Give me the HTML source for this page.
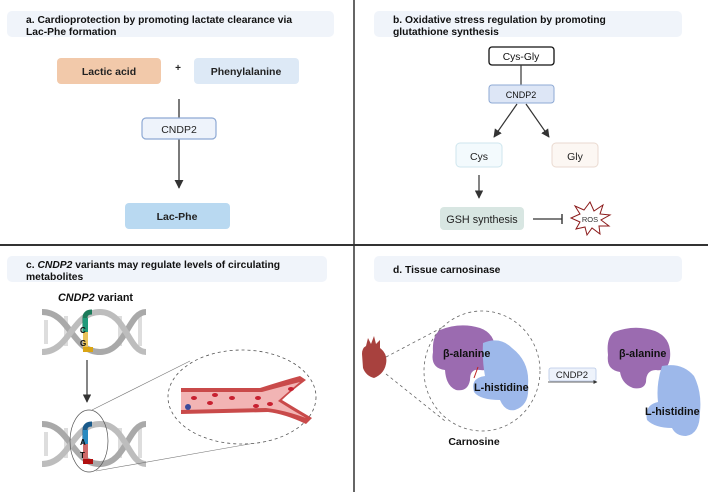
<!DOCTYPE html>
<html><head><meta charset="utf-8"><style>
body{margin:0;width:708px;height:492px;background:#fff;overflow:hidden}
svg{display:block}
text{font-family:"Liberation Sans",sans-serif}
</style></head><body>
<svg width="708" height="492" viewBox="0 0 708 492">
<defs>
<marker id="ar" viewBox="0 0 10 10" refX="9" refY="5" markerWidth="7" markerHeight="7" orient="auto-start-reverse"><path d="M0,0L10,5L0,10z" fill="#333"/></marker>
<marker id="ar2" viewBox="0 0 10 10" refX="9" refY="5" markerWidth="5" markerHeight="5" orient="auto"><path d="M0,0L10,5L0,10z" fill="#333"/></marker>
</defs>
<line x1="0" y1="245" x2="708" y2="245" stroke="#333" stroke-width="2"/>
<line x1="354" y1="0" x2="354" y2="492" stroke="#333" stroke-width="1.5"/>

<!-- panel a -->
<rect x="7" y="11" width="327" height="26" rx="5" fill="#f0f4fa"/>
<text x="26" y="23" font-size="10.3" font-weight="bold" fill="#111">a. Cardioprotection by promoting lactate clearance via</text>
<text x="26" y="35" font-size="10.3" font-weight="bold" fill="#111">Lac-Phe formation</text>
<rect x="57" y="58" width="104" height="26" rx="4" fill="#f2c9aa"/>
<text x="109" y="75" font-size="10.5" font-weight="bold" text-anchor="middle" fill="#222">Lactic acid</text>
<text x="178" y="71" font-size="10" font-weight="bold" text-anchor="middle" fill="#222">+</text>
<rect x="194" y="58" width="105" height="26" rx="4" fill="#dde9f6"/>
<text x="246" y="75" font-size="10.5" font-weight="bold" text-anchor="middle" fill="#222">Phenylalanine</text>
<line x1="179" y1="99" x2="179" y2="118" stroke="#333" stroke-width="1.3"/>
<line x1="179" y1="139" x2="179" y2="188" stroke="#333" stroke-width="1.3" marker-end="url(#ar)"/>
<rect x="142" y="118" width="74" height="21" rx="4" fill="#eef3fb" stroke="#8ea9d4" stroke-width="1.2"/>
<text x="179" y="133" font-size="10.5" text-anchor="middle" fill="#222">CNDP2</text>
<rect x="125" y="203" width="105" height="26" rx="4" fill="#b9d9f1"/>
<text x="177" y="220" font-size="10.5" font-weight="bold" text-anchor="middle" fill="#222">Lac-Phe</text>

<!-- panel b -->
<rect x="374" y="11" width="308" height="26" rx="5" fill="#f0f4fa"/>
<text x="393" y="23" font-size="10.3" font-weight="bold" fill="#111">b. Oxidative stress regulation by promoting</text>
<text x="393" y="35" font-size="10.3" font-weight="bold" fill="#111">glutathione synthesis</text>
<rect x="489" y="47" width="65" height="18" rx="3" fill="#fff" stroke="#111" stroke-width="1.3"/>
<text x="521" y="60" font-size="10.3" text-anchor="middle" fill="#111">Cys-Gly</text>
<line x1="521" y1="65" x2="521" y2="85" stroke="#333" stroke-width="1.2"/>
<rect x="489" y="85" width="65" height="18" rx="3" fill="#dde6f6" stroke="#8ea9d4" stroke-width="1"/>
<text x="521" y="98" font-size="9" text-anchor="middle" fill="#111">CNDP2</text>
<line x1="517" y1="104" x2="494" y2="137" stroke="#333" stroke-width="1.2" marker-end="url(#ar)"/>
<line x1="526" y1="104" x2="549" y2="137" stroke="#333" stroke-width="1.2" marker-end="url(#ar)"/>
<rect x="456" y="143" width="46" height="24" rx="4" fill="#f3fafd" stroke="#cfe6ee"/>
<text x="479" y="160" font-size="10.5" text-anchor="middle" fill="#222">Cys</text>
<rect x="552" y="143" width="46" height="24" rx="4" fill="#fcf7f3" stroke="#eadad0"/>
<text x="575" y="160" font-size="10.5" text-anchor="middle" fill="#222">Gly</text>
<line x1="479" y1="175" x2="479" y2="198" stroke="#333" stroke-width="1.2" marker-end="url(#ar)"/>
<rect x="440" y="207" width="84" height="23" rx="4" fill="#d8e6e2"/>
<text x="482" y="223" font-size="10.8" text-anchor="middle" fill="#222">GSH synthesis</text>
<line x1="533" y1="219" x2="562" y2="219" stroke="#333" stroke-width="1.2"/>
<line x1="562" y1="214" x2="562" y2="224" stroke="#333" stroke-width="1.4"/>
<polygon points="590,202 594,211 603,205 600,214 610,215 601,220 609,226 599,226 600,234 592,228 587,235 585,227 576,229 580,222 571,218 580,214 575,206 584,210" fill="#fff" stroke="#8b1a1a" stroke-width="1"/>
<text x="590" y="222" font-size="7.5" text-anchor="middle" fill="#333">ROS</text>

<!-- panel c -->
<rect x="7" y="256" width="320" height="26" rx="5" fill="#f0f4fa"/>
<text x="26" y="268" font-size="10.3" font-weight="bold" fill="#111">c. <tspan font-style="italic">CNDP2</tspan> variants may regulate levels of circulating</text>
<text x="26" y="280" font-size="10.3" font-weight="bold" fill="#111">metabolites</text>
<text x="58" y="301" font-size="10.8" font-weight="bold" fill="#111"><tspan font-style="italic">CNDP2</tspan> variant</text>
<g>
<rect x="44" y="320" width="4" height="24" fill="#ddd"/><rect x="64" y="316" width="4" height="30" fill="#ddd"/><rect x="118" y="316" width="4" height="30" fill="#ddd"/><rect x="138" y="316" width="4" height="30" fill="#ddd"/>
<path d="M42,312 C70,312 72,352 100,352 C126,352 128,312 146,312" fill="none" stroke="#a9a9a9" stroke-width="6"/>
<path d="M42,352 C70,352 72,312 100,312 C126,312 128,352 146,352" fill="none" stroke="#bdbdbd" stroke-width="6"/>
</g>
<path d="M85,332 L85,318 Q85,312 92,312" fill="none" stroke="#1b7a5a" stroke-width="5"/>
<rect x="83" y="318" width="5" height="14" fill="#1f9a7a"/>
<rect x="83" y="332" width="5" height="16" fill="#e8c25a"/>
<rect x="83" y="347" width="10" height="5" fill="#d9a414"/>
<text x="80" y="333" font-size="8" font-weight="bold" fill="#111">C</text>
<text x="80" y="346" font-size="8" font-weight="bold" fill="#111">G</text>
<line x1="87" y1="360" x2="87" y2="402" stroke="#333" stroke-width="1.2" marker-end="url(#ar)"/>
<g transform="translate(0,112)">
<rect x="44" y="320" width="4" height="24" fill="#ddd"/><rect x="64" y="316" width="4" height="30" fill="#ddd"/><rect x="118" y="316" width="4" height="30" fill="#ddd"/><rect x="138" y="316" width="4" height="30" fill="#ddd"/>
<path d="M42,312 C70,312 72,352 100,352 C126,352 128,312 146,312" fill="none" stroke="#a9a9a9" stroke-width="6"/>
<path d="M42,352 C70,352 72,312 100,312 C126,312 128,352 146,352" fill="none" stroke="#bdbdbd" stroke-width="6"/>
</g>
<path d="M85,444 L85,430 Q85,424 92,424" fill="none" stroke="#1a5a8a" stroke-width="5"/>
<rect x="83" y="430" width="5" height="14" fill="#2a8ac0"/>
<rect x="83" y="444" width="5" height="16" fill="#d06a6a"/>
<rect x="83" y="459" width="10" height="5" fill="#b01010"/>
<text x="80" y="445" font-size="8" font-weight="bold" fill="#111">A</text>
<text x="80" y="458" font-size="8" font-weight="bold" fill="#111">T</text>
<ellipse cx="89" cy="441" rx="19" ry="31" fill="none" stroke="#555" stroke-width="0.7"/>
<line x1="92" y1="410" x2="190" y2="361" stroke="#777" stroke-width="0.6"/>
<line x1="96" y1="471" x2="272" y2="440" stroke="#777" stroke-width="0.6"/>
<ellipse cx="242" cy="397" rx="74" ry="47" fill="#fff" stroke="#555" stroke-width="0.8" stroke-dasharray="3,3"/>
<path d="M181,388 L260,388 Q285,380 300,376 L306,380 Q290,392 282,400 Q295,408 312,418 L306,424 Q285,414 268,412 L181,414 Z" fill="#c94a4a"/>
<path d="M181,392 L262,392 Q284,386 300,382 Q288,392 278,401 Q292,410 306,418 Q284,410 266,408 L181,410 Z" fill="#f2b4b4"/>
<g fill="#c82030"><ellipse cx="194" cy="398" rx="3" ry="2"/><ellipse cx="210" cy="403" rx="3" ry="2"/><ellipse cx="215" cy="395" rx="3" ry="2"/><ellipse cx="232" cy="398" rx="3" ry="2"/><ellipse cx="258" cy="398" rx="3" ry="2"/><ellipse cx="256" cy="406" rx="3" ry="2"/><ellipse cx="270" cy="404" rx="3" ry="2"/><ellipse cx="291" cy="389" rx="3" ry="2"/></g>
<circle cx="188" cy="407" r="3" fill="#3a4a9a"/>

<!-- panel d -->
<rect x="374" y="256" width="308" height="26" rx="5" fill="#f0f4fa"/>
<text x="393" y="273" font-size="10.3" font-weight="bold" fill="#111">d. Tissue carnosinase</text>
<path d="M366,346 L368,338 L371,344 L374,336 L376,344 L380,340 L380,348 Q388,354 386,364 Q384,374 374,378 Q366,376 363,368 L362,354 Q362,348 366,346Z" fill="#a8413e"/>
<line x1="386" y1="357" x2="445" y2="326" stroke="#666" stroke-width="0.8" stroke-dasharray="3,3"/>
<line x1="386" y1="374" x2="445" y2="421" stroke="#666" stroke-width="0.8" stroke-dasharray="3,3"/>
<ellipse cx="482" cy="371" rx="58" ry="60" fill="none" stroke="#666" stroke-width="0.8" stroke-dasharray="3,3"/>
<path d="M440,330 Q460,322 480,328 Q497,334 495,355 Q494,372 480,370 Q470,368 470,380 Q468,392 456,390 Q446,386 445,370 Q430,368 433,352 Q432,336 440,330Z" fill="#9b6bb0"/>
<path d="M483,343 Q500,336 512,348 Q530,362 528,385 Q530,405 515,410 Q505,412 500,400 Q480,400 474,392 Q470,378 485,376 Q482,360 483,343Z" fill="#9db8ea"/>
<line x1="478" y1="367" x2="474" y2="378" stroke="#c02020" stroke-width="1"/>
<text x="443" y="357" font-size="10.8" font-weight="bold" fill="#111">β-alanine</text>
<text x="474" y="391" font-size="10.8" font-weight="bold" fill="#111">L-histidine</text>
<text x="474" y="445" font-size="10.5" font-weight="bold" fill="#111" text-anchor="middle">Carnosine</text>
<rect x="549" y="368" width="47" height="13" rx="2" fill="#eef3fb" stroke="#b8c8e6" stroke-width="0.8"/>
<text x="572" y="378" font-size="9.5" text-anchor="middle" fill="#222">CNDP2</text>
<line x1="548" y1="382" x2="597" y2="382" stroke="#333" stroke-width="0.8" marker-end="url(#ar2)"/>
<path d="M614,332 Q635,324 655,331 Q672,338 670,358 Q668,372 656,370 Q646,370 646,382 Q644,390 633,388 Q622,384 620,372 Q606,370 608,355 Q606,338 614,332Z" fill="#9b6bb0"/>
<path d="M662,366 Q682,362 694,376 Q702,392 700,412 Q700,434 686,436 Q676,436 672,428 Q655,428 647,420 Q644,405 658,402 Q656,384 662,366Z" fill="#9db8ea"/>
<text x="619" y="357" font-size="10.8" font-weight="bold" fill="#111">β-alanine</text>
<text x="645" y="415" font-size="10.8" font-weight="bold" fill="#111">L-histidine</text>
</svg>
</body></html>
